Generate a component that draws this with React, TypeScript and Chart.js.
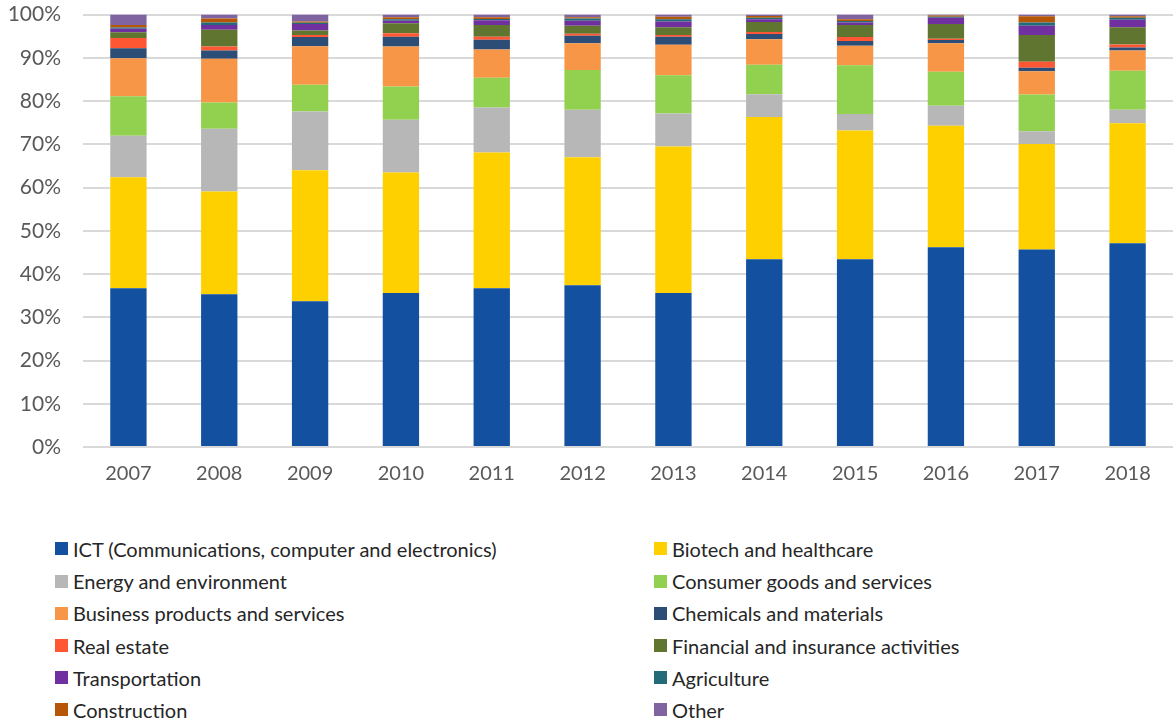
import React, { useEffect, useRef } from "react";
import { Chart, registerables } from "chart.js";

Chart.register(...registerables);

const years = ["2007", "2008", "2009", "2010", "2011", "2012", "2013", "2014", "2015", "2016", "2017", "2018"];

const ict = [36.7, 35.3, 33.7, 35.6, 36.7, 37.4, 35.6, 43.4, 43.4, 46.2, 45.7, 47.1];
const biotech = [25.7, 23.8, 30.3, 27.9, 31.4, 29.6, 33.9, 32.9, 29.8, 28.1, 24.4, 27.8];
const energy = [9.6, 14.5, 13.6, 12.2, 10.4, 11.0, 7.6, 5.3, 3.8, 4.6, 2.9, 3.1];
const consumer = [9.1, 6.1, 6.2, 7.7, 6.9, 9.2, 8.9, 6.8, 11.3, 7.9, 8.5, 9.0];
const business = [8.8, 10.1, 8.9, 9.2, 6.5, 6.2, 7.0, 5.9, 4.5, 6.6, 5.4, 4.7];
const chemicals = [2.3, 1.9, 2.1, 2.3, 2.3, 1.7, 1.9, 1.2, 1.1, 0.7, 0.8, 0.7];
const realEstate = [2.4, 0.9, 0.5, 0.8, 0.7, 0.5, 0.4, 0.5, 0.9, 0.3, 1.4, 0.7];
const financial = [1.3, 3.9, 1.0, 2.3, 2.7, 1.8, 1.8, 2.3, 2.8, 3.4, 6.2, 4.0];
const transportation = [0.8, 1.1, 1.5, 0.6, 1.1, 1.2, 1.3, 0.6, 0.6, 1.5, 2.1, 1.7];
const agriculture = [0.3, 0.6, 0.3, 0.3, 0.3, 0.5, 0.5, 0.4, 0.3, 0.2, 0.8, 0.5];
const construction = [0.6, 0.9, 0.3, 0.5, 0.4, 0.3, 0.6, 0.4, 0.4, 0.3, 1.4, 0.3];
const other = [2.4, 0.9, 1.6, 0.6, 0.6, 0.6, 0.5, 0.3, 1.1, 0.2, 0.4, 0.4];

const yTicks = [0, 10, 20, 30, 40, 50, 60, 70, 80, 90, 100];

const seriesNames = [
  "ICT (Communications, computer and electronics)",
  "Biotech and healthcare",
  "Energy and environment",
  "Consumer goods and services",
  "Business products and services",
  "Chemicals and materials",
  "Real estate",
  "Financial and insurance activities",
  "Transportation",
  "Agriculture",
  "Construction",
  "Other",
];
const seriesValues = [
  ict, biotech, energy, consumer, business, chemicals,
  realEstate, financial, transportation, agriculture, construction, other,
];
const seriesColors = [
  "#1350A0", "#FFD000", "#B7B7B7", "#92D050", "#F79646", "#2C4D75",
  "#FF5733", "#5F7530", "#7030A0", "#246B7A", "#B65708", "#8064A2",
];

const FONT = "Lato, 'Open Sans', sans-serif";

export default function App() {
  const ref = useRef<HTMLCanvasElement | null>(null);

  useEffect(() => {
    if (!ref.current) return;
    const chart = new Chart(ref.current, {
      type: "bar",
      data: {
        labels: years,
        datasets: seriesNames.map((name, i) => ({
          label: name,
          data: seriesValues[i],
          backgroundColor: seriesColors[i],
          borderWidth: 0,
          categoryPercentage: 0.4,
          barPercentage: 1,
        })),
      },
      options: {
        animation: false,
        responsive: false,
        maintainAspectRatio: false,
        layout: { padding: { top: 14, right: 0, left: 0, bottom: 0 } },
        plugins: {
          legend: { display: false },
          tooltip: { enabled: false },
        },
        scales: {
          x: {
            stacked: true,
            grid: { display: false },
            border: { display: false },
            ticks: {
              color: "#595959",
              font: { family: FONT, size: 20 },
              padding: 7,
              maxRotation: 0,
            },
            afterFit: (s: any) => {
              s.height = 43;
            },
          },
          y: {
            stacked: true,
            min: 0,
            max: 100,
            afterBuildTicks: (s: any) => {
              s.ticks = yTicks.map((v) => ({ value: v }));
            },
            grid: { color: "#D9D9D9", lineWidth: 2, drawTicks: false },
            border: { display: false },
            ticks: {
              color: "#595959",
              font: { family: FONT, size: 21 },
              padding: 22,
              callback: (v: any) => v + "%",
            },
            afterFit: (s: any) => {
              s.width = 83;
            },
          },
        },
      },
    });
    return () => chart.destroy();
  }, []);

  const rowH = 32.2;
  return (
    <div style={{ position: "absolute", left: 0, top: 0, width: 1173, height: 724, background: "#fff", overflow: "hidden" }}>
      <canvas ref={ref} width={1173} height={510} style={{ position: "absolute", left: 0, top: -20 }} />
      {seriesNames.map((name, i) => {
        const col = i % 2;
        const row = Math.floor(i / 2);
        const left = col === 0 ? 55 : 654;
        const cy = 549 + row * rowH;
        return (
          <div
            key={name}
            style={{
              position: "absolute",
              left,
              top: cy - rowH / 2,
              height: rowH,
              display: "flex",
              alignItems: "center",
              whiteSpace: "nowrap",
              fontFamily: FONT,
              fontSize: 20,
              color: "#262626",
            }}
          >
            <span style={{ display: "inline-block", width: 13, height: 13, background: seriesColors[i], marginRight: 5 }} />
            <span>{name}</span>
          </div>
        );
      })}
    </div>
  );
}
